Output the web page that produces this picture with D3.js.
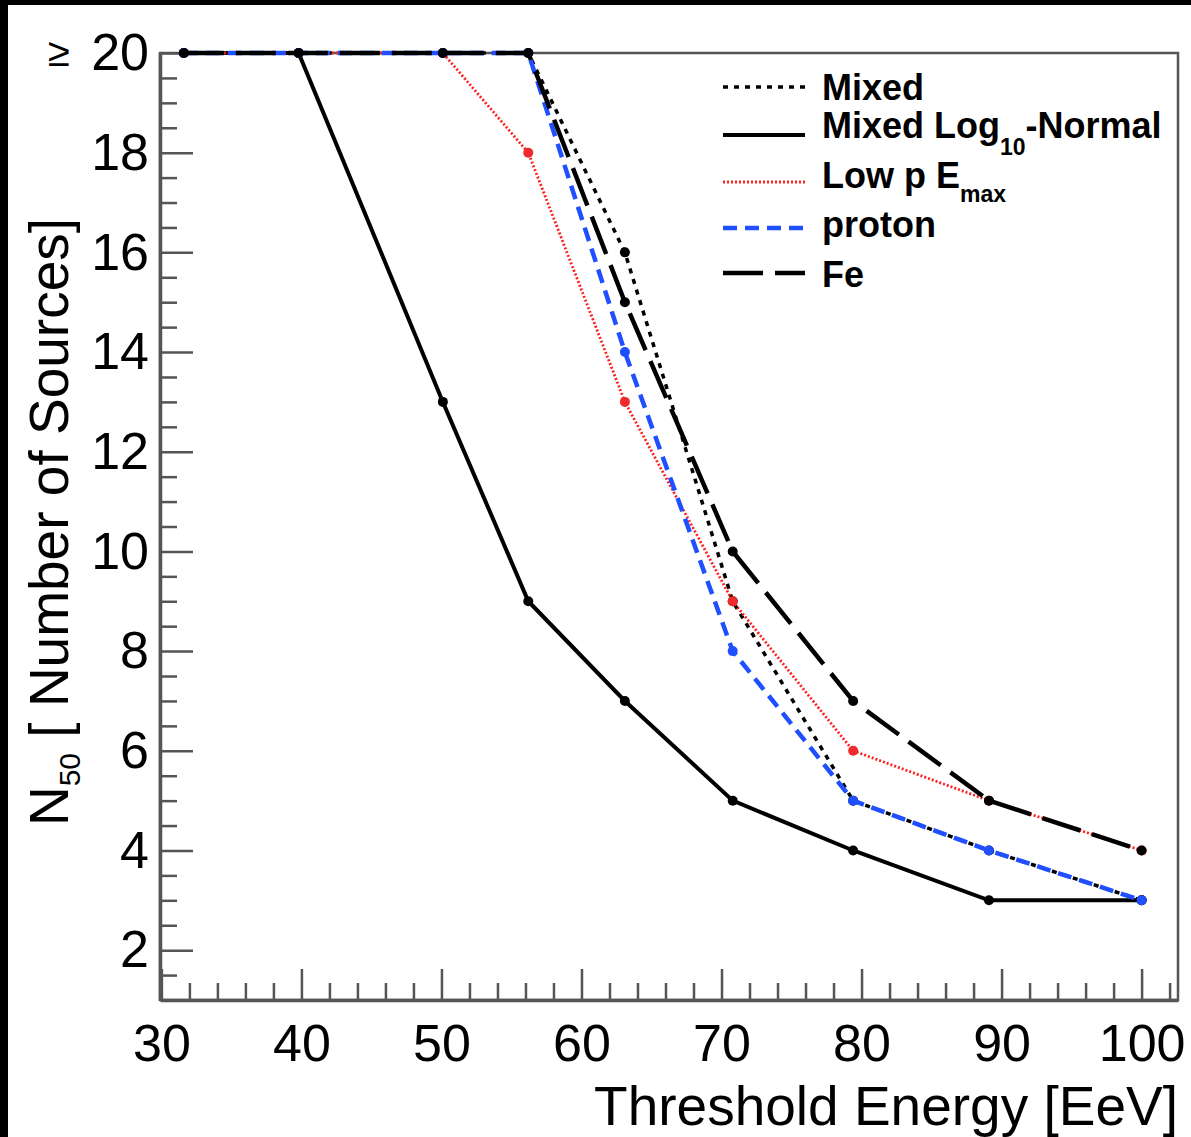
<!DOCTYPE html>
<html lang="en">
<head>
    <meta charset="UTF-8">
    <title>N50 vs Threshold Energy</title>
    <script src="https://d3js.org/d3.v7.min.js"></script>
    <style>
        body {
            margin: 0;
            background: #000;
        }
        svg text {
            font-family: "Liberation Sans", Arial, Helvetica, sans-serif;
            fill: #000;
        }
        .axis path, .axis line {
            stroke: #555;
        }
    </style>
</head>
<body>
    <svg id="chart" width="1191" height="1137"></svg>

    <script>
        // data
        const energy = [31.6, 39.8, 50.1, 56.2, 63.1, 70.8, 79.4, 89.1, 100];
        const mixed = [20, 20, 20, 20, 16, 9, 5, 4, 3];
        const logNormal = [20, 20, 13, 9, 7, 5, 4, 3, 3];
        const lowP = [20, 20, 20, 18, 13, 9, 6, 5, 4];
        const proton = [20, 20, 20, 20, 14, 8, 5, 4, 3];
        const fe = [20, 20, 20, 20, 15, 10, 7, 5, 4];

        const xMajor = [30, 40, 50, 60, 70, 80, 90, 100];
        const yMajor = [2, 4, 6, 8, 10, 12, 14, 16, 18, 20];

        const series = [
            {name: "Mixed", values: mixed, color: "#000", width: 3.5, dash: "5,6", dot: "#000"},
            {name: "Mixed Log", sub: "10", after: "-Normal", values: logNormal, color: "#000", width: 4, dash: null, dot: "#000"},
            {name: "Low p E", sub: "max", after: "", values: lowP, color: "#ff2020", width: 2.8, dash: "2,2", dot: "#ee2a2a"},
            {name: "proton", values: proton, color: "#1f4fff", width: 4.5, dash: "14,8", dot: "#1f4fff"},
            {name: "Fe", values: fe, color: "#000", width: 4.5, dash: "40,12", dot: "#000"}
        ];

        const svg = d3.select("#chart");

        // white page with black strip top/left
        svg.append("rect")
            .attr("x", 8).attr("y", 5)
            .attr("width", 1191 - 8).attr("height", 1137 - 5)
            .attr("fill", "#fff");

        const x = d3.scaleLinear().domain([29.9, 102.6]).range([160, 1178]);
        const y = d3.scaleLinear().domain([1, 20]).range([1000, 53]);

        // frame
        svg.append("rect")
            .attr("x", x.range()[0]).attr("y", y.range()[1])
            .attr("width", x.range()[1] - x.range()[0])
            .attr("height", y.range()[0] - y.range()[1])
            .attr("fill", "none")
            .attr("stroke", "#555")
            .attr("stroke-width", 2.5);

        // x minor ticks
        const xMinor = d3.range(32, 103, 2).filter(v => v % 10 !== 0);
        svg.append("g")
            .attr("class", "axis")
            .attr("transform", `translate(0,${y.range()[0]})`)
            .call(d3.axisBottom(x).tickValues(xMinor).tickSizeInner(-17).tickSizeOuter(0).tickFormat(""))
            .call(g => g.select(".domain").remove())
            .selectAll("line").attr("stroke-width", 2.5);

        // x major ticks + labels
        svg.append("g")
            .attr("class", "axis")
            .attr("transform", `translate(0,${y.range()[0]})`)
            .call(d3.axisBottom(x).tickValues(xMajor).tickSizeInner(-31).tickSizeOuter(0).tickPadding(24))
            .call(g => g.select(".domain").attr("stroke-width", 3.5))
            .call(g => g.selectAll("line").attr("stroke-width", 2.5))
            .selectAll("text")
            .style("font-size", "52px")
            .attr("fill", "#000");

        // y minor ticks
        const yMinor = d3.range(1.5, 20, 0.5).filter(v => v % 2 !== 0);
        svg.append("g")
            .attr("class", "axis")
            .attr("transform", `translate(${x.range()[0]},0)`)
            .call(d3.axisLeft(y).tickValues(yMinor).tickSizeInner(-17).tickSizeOuter(0).tickFormat(""))
            .call(g => g.select(".domain").remove())
            .selectAll("line").attr("stroke-width", 2.5);

        // y major ticks + labels
        svg.append("g")
            .attr("class", "axis")
            .attr("transform", `translate(${x.range()[0]},0)`)
            .call(d3.axisLeft(y).tickValues(yMajor).tickSizeInner(-33).tickSizeOuter(0).tickPadding(11))
            .call(g => g.select(".domain").attr("stroke-width", 3.5))
            .call(g => g.selectAll("line").attr("stroke-width", 2.5))
            .selectAll("text")
            .style("font-size", "52px")
            .attr("fill", "#000");

        svg.append("text")
            .attr("x", 59).attr("y", y(20) + 2)
            .attr("text-anchor", "middle")
            .attr("dominant-baseline", "middle")
            .style("font-size", "40px")
            .text("≥");

        // axis titles
        svg.append("text")
            .attr("x", 1178).attr("y", 1125)
            .attr("text-anchor", "end")
            .style("font-size", "55px")
            .text("Threshold Energy [EeV]");

        const yTitle = svg.append("text")
            .attr("transform", "translate(68,218) rotate(-90)")
            .attr("text-anchor", "end")
            .style("font-size", "55px");
        yTitle.append("tspan").text("N");
        yTitle.append("tspan").attr("dy", 12).style("font-size", "30px").text("50");
        yTitle.append("tspan").attr("dy", -12).text(" [ Number of Sources]");

        // lines
        const line = d3.line()
            .x((d, i) => x(energy[i]))
            .y(d => y(d));

        series.forEach(s => {
            svg.append("path")
                .datum(s.values)
                .attr("fill", "none")
                .attr("stroke", s.color)
                .attr("stroke-width", s.width)
                .attr("stroke-dasharray", s.dash)
                .attr("d", line);

            svg.append("g")
                .selectAll("circle")
                .data(s.values)
                .enter().append("circle")
                .attr("cx", (d, i) => x(energy[i]))
                .attr("cy", d => y(d))
                .attr("r", 5)
                .attr("fill", s.dot);
        });

        // legend
        const legendLineY = [87, 135, 182, 228, 273];
        const legendTextY = [100, 138, 188, 237, 287];
        const subShift = [0, 17, 14, 0, 0];

        series.forEach((s, i) => {
            svg.append("line")
                .attr("x1", 723).attr("x2", 805)
                .attr("y1", legendLineY[i]).attr("y2", legendLineY[i])
                .attr("stroke", s.color)
                .attr("stroke-width", s.width)
                .attr("stroke-dasharray", s.dash);

            const t = svg.append("text")
                .attr("x", 822).attr("y", legendTextY[i])
                .style("font-size", "36px")
                .style("font-weight", "bold");
            t.append("tspan").text(s.name);
            if (s.sub) {
                t.append("tspan").attr("dy", subShift[i]).style("font-size", "23px").text(s.sub);
                if (s.after) t.append("tspan").attr("dy", -subShift[i]).text(s.after);
            }
        });
    </script>
</body>
</html>
